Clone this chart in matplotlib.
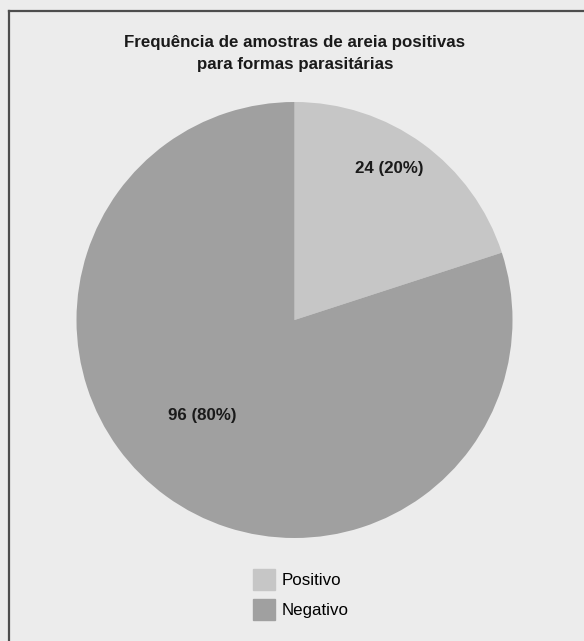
import numpy as np
import matplotlib.pyplot as plt
from matplotlib.lines import Line2D

plt.rcParams["font.family"] = ["Liberation Sans", "DejaVu Sans"]

# %% data
categories = ["Positivo", "Negativo"]
counts = [24, 96]
percents = [20, 80]
colors = ["#c6c6c6", "#a0a0a0"]
title = "Frequência de amostras de areia positivas\npara formas parasitárias"

W, H = 584, 641
fig = plt.figure(figsize=(W / 100, H / 100), dpi=100, facecolor="#ececec")

# top / left frame lines only
fig.add_artist(Line2D([8.5 / W, 8.5 / W], [0, 1 - 10.5 / H], color="#4d4d4d", lw=1.6,
                      transform=fig.transFigure))
fig.add_artist(Line2D([8.5 / W, 1], [1 - 10.5 / H, 1 - 10.5 / H], color="#4d4d4d", lw=1.6,
                      transform=fig.transFigure))

cx, cy, r = 294.5, 320, 218
ax = fig.add_axes([(cx - r) / W, 1 - (cy + r) / H, 2 * r / W, 2 * r / H])
ax.set_facecolor("none")

wedges, _ = ax.pie(counts, colors=colors, startangle=90, counterclock=False,
                   radius=1, wedgeprops=dict(linewidth=0))
ax.set_xlim(-1, 1)
ax.set_ylim(-1, 1)
ax.set_aspect("equal")
ax.axis("off")

# labels placed along each wedge
label_r = [0.82, 0.61]
label_shift = [4, -8]
for w, n, p, lr, sh in zip(wedges, counts, percents, label_r, label_shift):
    ang = np.deg2rad((w.theta1 + w.theta2) / 2 + sh)
    ax.text(lr * np.cos(ang), lr * np.sin(ang), f"{n} ({p}%)", ha="center", va="center",
            fontsize=12.2, fontweight="bold", color="#1a1a1a")

fig.text(295 / W, 1 - 35 / H, title, ha="center", va="top", fontsize=12.2,
         fontweight="bold", color="#1a1a1a", linespacing=1.6)

handles = [plt.Rectangle((0, 0), 1, 1, color=c) for c in colors]
fig.legend(handles, categories, loc="center left", bbox_to_anchor=(253 / W, 1 - 594.5 / H),
           frameon=False, fontsize=12.2, handlelength=1.3, handleheight=1.55,
           handletextpad=0.36, labelspacing=0.5, borderpad=0, borderaxespad=0)

fig.savefig("out.png", dpi=100, facecolor=fig.get_facecolor())
